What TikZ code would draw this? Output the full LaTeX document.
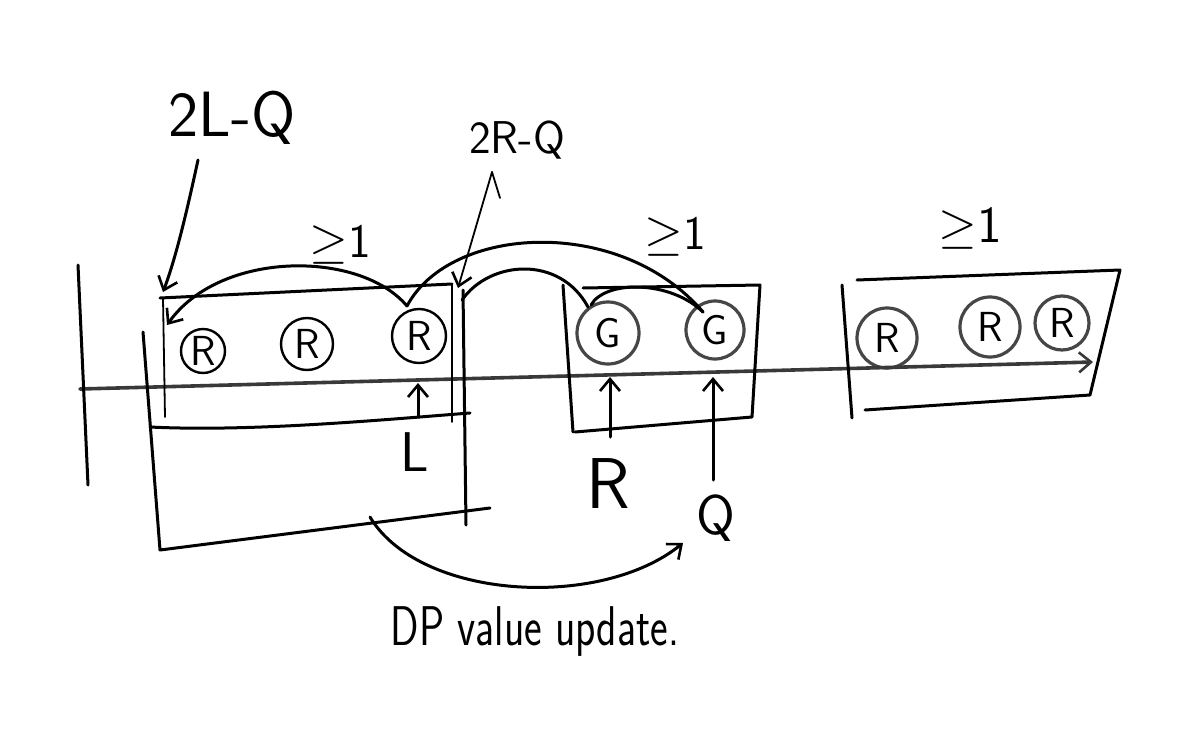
\documentclass[tikz,border=0pt]{standalone}
\usetikzlibrary{arrows.meta}
\newcommand{\fsz}[1]{\sffamily\fontsize{#1}{#1}\selectfont}
\begin{document}
\begin{tikzpicture}[x=0.5pt,y=-0.5pt,
  ink/.style={line width=1.5pt, black, line cap=round, line join=round},
  thinink/.style={line width=0.9pt, black, line cap=round, line join=round},
  pencil/.style={line width=1.8pt, gray!45!black, line cap=round},
  ball/.style={circle, draw=black, line width=1.2pt, inner sep=0pt, font=\fsz{21}},
  gball/.style={ball, draw=gray!55!black, line width=1.6pt},
  lbl/.style={inner sep=0pt, text=black},
  tip/.style={-{Straight Barb[length=6pt,width=10pt,line width=1.3pt]}}
]
\useasboundingbox[fill=white] (0,0) rectangle (1199,728);

% ---- circles ----
\node[ball, minimum size=22pt] (r1) at (203,351) {R};
\node[ball, minimum size=26pt] (r2) at (307,344) {R};
\node[ball, minimum size=27pt] (r3) at (419,336) {R};
\node[gball, minimum size=31pt] (g1) at (608,333) {G};
\node[gball, minimum size=29pt] (g2) at (715,330) {G};
\node[gball, minimum size=30pt] (s1) at (887,338) {R};
\node[gball, minimum size=30pt] (s2) at (990,327) {R};
\node[gball, minimum size=27pt] (s3) at (1062,323) {R};

% ---- labels ----
\node[lbl, font=\fsz{32}] (t2l) at (232,118) {2L-Q};
\node[lbl, font=\fsz{23}] (t2r) at (517,140) {2R-Q};
\node[lbl, font=\fsz{24}] (ge1) at (340,245) {$\geq$1};
\node[lbl, font=\fsz{24}] (ge2) at (675,237) {$\geq$1};
\node[lbl, font=\fsz{26}] (ge3) at (970,228) {$\geq$1};
\node[lbl, font=\fsz{28}] (lL) at (415,452) {L};
\node[lbl, font=\fsz{36}] (lR) at (608,484) {R};
\node[lbl, font=\fsz{28}] (lQ) at (716,518) {Q};
\node[lbl, font=\fsz{28}] (dp) at (535,632) {\scalebox{0.75}[1]{DP value update.}};

% ---- coordinates ----
\coordinate (axL) at (80,389);
\coordinate (axR) at (1093,362);
\coordinate (c2lS) at (198,160);
\coordinate (c2lE) at (163,292);
\coordinate (c2rT) at (500,198);
\coordinate (c2rS) at (492,172);
\coordinate (c2rE) at (458,288);
\coordinate (aS) at (407,306);
\coordinate (aE) at (167,325);
\coordinate (bE) at (703,312);
\coordinate (cS) at (462,300);
\coordinate (cE) at (588,307);
\coordinate (dS) at (591,305);
\coordinate (upL0) at (418,417);
\coordinate (upL1) at (418,383);
\coordinate (upR0) at (610,437);
\coordinate (upR1) at (610,377);
\coordinate (upQ0) at (713,480);
\coordinate (upQ1) at (713,377);
\coordinate (dpS) at (370,517);
\coordinate (dpE) at (683,543);

% ---- axis ----
\draw[pencil, tip] (axL) -- (axR);

% ---- left wall ----
\draw[ink] (78,265) -- (88,485);

% ---- box 1 (outer) ----
\draw[ink] (143,332) -- (160,550) -- (490,508);
\draw[ink] (463,290) -- (466,525);
\draw[ink] (150,427) .. controls (250,432) and (380,420) .. (470,413);
% ---- box 1 (inner) ----
\draw[thinink] (165,417) -- (163,298);
\draw[ink] (160,298) -- (452,284);
\draw[thinink] (452,284) -- (452,422);

% ---- box 2 ----
\draw[ink] (563,285) -- (573,432);
\draw[ink] (575,432) -- (752,417) -- (760,285) -- (583,288);

% ---- box 3 ----
\draw[ink] (842,285) -- (852,418);
\draw[ink] (857,280) -- (1120,270) -- (1090,395) -- (865,410);

% ---- arcs ----
\draw[ink, tip] (aS) .. controls (360,250) and (220,250) .. (aE);
\draw[ink] (aS) .. controls (450,225) and (620,215) .. (bE);
\draw[ink] (cS) .. controls (490,260) and (560,255) .. (cE);
\draw[ink] (dS) .. controls (605,280) and (670,280) .. (bE);

% ---- pointer arrows ----
\draw[ink, tip] (c2lS) .. controls (185,220) and (175,260) .. (c2lE);
\draw[thinink] (c2rT) -- (c2rS);
\draw[thinink, tip] (c2rS) -- (c2rE);
\draw[ink, tip] (upL0) -- (upL1);
\draw[ink, tip] (upR0) -- (upR1);
\draw[ink, tip] (upQ0) -- (upQ1);

% ---- DP arrow ----
\draw[ink, tip] (dpS) .. controls (420,600) and (600,610) .. (dpE);
\end{tikzpicture}
\end{document}
